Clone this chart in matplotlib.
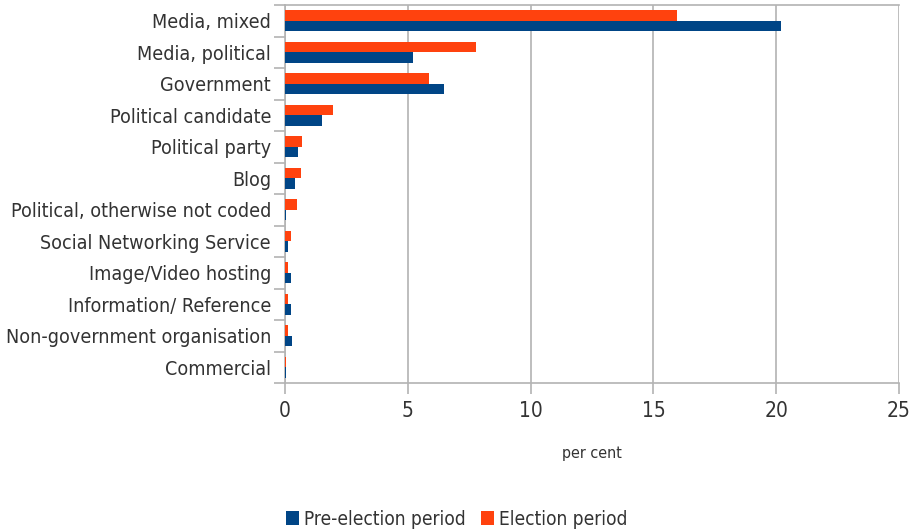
import matplotlib
matplotlib.use('Agg')
from matplotlib import pyplot as plt
import numpy as np

categories = ['Media, mixed', 'Media, political', 'Government', 'Political candidate',
              'Political party', 'Blog', 'Political, otherwise not coded',
              'Social Networking Service', 'Image/Video hosting', 'Information/ Reference',
              'Non-government organisation', 'Commercial']
pre_election = [20.2, 5.2, 6.47, 1.49, 0.54, 0.42, 0.05, 0.11, 0.23, 0.26, 0.3, 0.06]
election = [15.96, 7.78, 5.86, 1.96, 0.7, 0.66, 0.5, 0.26, 0.14, 0.12, 0.11, 0.03]

plt.rcParams['font.family'] = ['DejaVu Sans']
plt.rcParams['font.stretch'] = 'condensed'
txt = '#333333'
grey = '#b3b3b3'

fig = plt.figure(figsize=(9.13, 5.30), dpi=100)
ax = fig.add_axes([285/913, 1 - 383/530, (899 - 285)/913, (383 - 5)/530])

y = np.arange(len(categories))
h = 0.33
ax.barh(y + h/2, pre_election, height=h, color='#004586', label='Pre-election period', zorder=3)
ax.barh(y - h/2, election, height=h, color='#ff420e', label='Election period', zorder=3)

ax.set_xlim(0, 25)
ax.set_ylim(len(categories) - 0.5, -0.5)
ax.set_xticks([0, 5, 10, 15, 20, 25])
ax.set_yticks(y)
ax.set_yticklabels(categories)
ax.set_yticks(np.arange(-0.5, len(categories)), minor=True)
ax.tick_params(axis='y', which='major', length=0, pad=10, labelsize=14.1, labelcolor=txt)
ax.tick_params(axis='y', which='minor', length=8, color=grey, width=1.2)
ax.tick_params(axis='x', length=8, color=grey, width=1.2, labelsize=15, labelcolor=txt, pad=5)
ax.grid(axis='x', color=grey, linewidth=1.2, zorder=0)
for s in ax.spines.values():
    s.set_color(grey)
    s.set_linewidth(1.2)
ax.spines['right'].set_visible(False)

ax.set_xlabel('per cent', fontsize=11.5, color=txt, labelpad=18)

leg = fig.legend(loc='lower center', bbox_to_anchor=(0.5, -0.03), ncol=2, frameon=False,
                 fontsize=13.7, handlelength=0.7, handleheight=0.7, handletextpad=0.25,
                 columnspacing=0.8, labelcolor=txt)

fig.savefig('out.png', dpi=100)
